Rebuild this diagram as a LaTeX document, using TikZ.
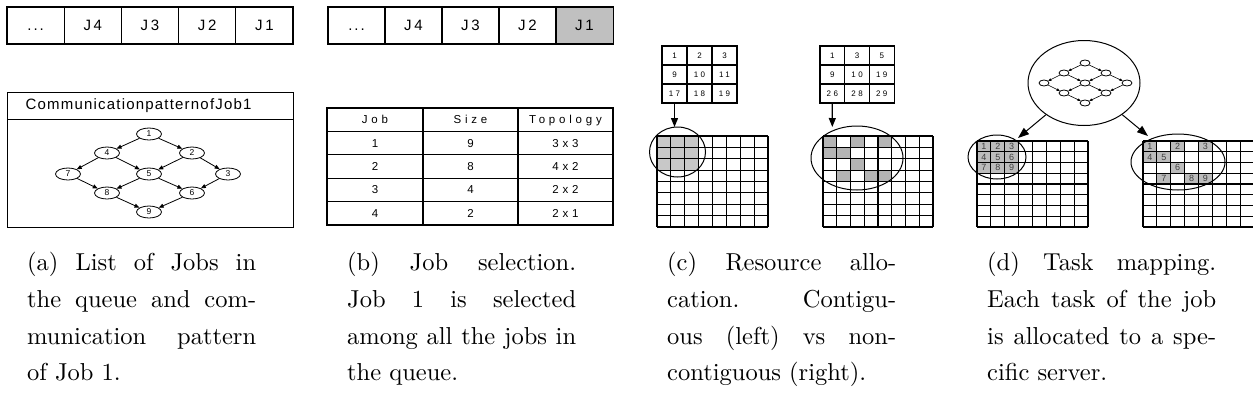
\documentclass[tikz,border=0pt]{standalone}
\usepackage{fontspec}
\usetikzlibrary{shapes.geometric,arrows.meta}
\newfontfamily\arial{Liberation Sans}
\newfontfamily\arialq[LetterSpace=18]{Liberation Sans}
\newfontfamily\arialhd[LetterSpace=8]{Liberation Sans}
\newfontfamily\arialtb[LetterSpace=33]{Liberation Sans}
\newfontfamily\arialnum[LetterSpace=30]{Liberation Sans}
\newfontfamily\capfont{lmroman10-regular}[Extension=.otf]
\newcommand\qdots{.\kern2pt.\kern2pt.}
\tolerance=10000
\hbadness=10000
\definecolor{shadeQ}{HTML}{C0C0C0}
\definecolor{shadeL}{HTML}{C8C8C8}
\definecolor{shadeD}{HTML}{B4B4B4}
\definecolor{shadeM}{HTML}{BCBCBC}
\tikzset{
  frame/.style={draw, line width=1.2pt},
  qcell/.style={frame, inner sep=0pt, minimum width=57.2pt, minimum height=37pt,
    text height=10.5pt, text depth=0pt, font=\arialq\fontsize{15}{17}\selectfont},
  tcell/.style={frame, inner sep=0pt, minimum height=23.4pt,
    text height=8pt, text depth=0pt, font=\arialtb\fontsize{11.5}{13}\selectfont},
  gnode/.style={draw, ellipse, line width=0.8pt, inner sep=0pt, minimum width=25pt,
    minimum height=12pt, font=\arial\fontsize{8.5}{9}\selectfont},
  mnode/.style={draw, ellipse, line width=0.8pt, inner sep=0pt, minimum width=10pt,
    minimum height=6pt},
  garrow/.style={line width=0.8pt, -{Triangle[length=5pt,width=4pt]}},
  marrow/.style={line width=0.6pt, -{Triangle[length=3pt,width=2.6pt]}},
  carrow/.style={line width=1.2pt, -{Triangle[length=9pt,width=7pt]}},
  darrow/.style={line width=1pt, -{Triangle[length=11pt,width=8pt]}},
  scell/.style={frame, inner sep=0pt, minimum width=25pt, minimum height=19pt,
    font=\arialnum\fontsize{8}{9}\selectfont},
  gridline/.style={line width=1.1pt},
  oval/.style={draw, ellipse, line width=1pt, inner sep=0pt},
  dnum/.style={inner sep=0pt, text=black!75, font=\arial\fontsize{9}{10}\selectfont},
  caption/.style={anchor=north west, inner sep=0pt, text width=229pt, align=justify,
    font=\capfont\fontsize{24.5}{36.8}\selectfont}
}
\begin{document}
\begin{tikzpicture}[x=1pt,y=-1pt]
\useasboundingbox (0,0) rectangle (1253,418);
% ---------- (a) ----------
\node[qcell] (qa1) at ({7+0.5*57.2},25.5) {\qdots};
\node[qcell] (qa2) at ({7+1.5*57.2},25.5) {J4};
\node[qcell] (qa3) at ({7+2.5*57.2},25.5) {J3};
\node[qcell] (qa4) at ({7+3.5*57.2},25.5) {J2};
\node[qcell] (qa5) at ({7+4.5*57.2},25.5) {J1};
\node[frame, anchor=north west, minimum height=27pt, text width=250pt, inner xsep=18pt,
  inner ysep=0pt, align=left, font=\arialhd\fontsize{15}{17}\selectfont] (hdr) at (7,92)
  {CommunicationpatternofJob1};
\node[frame, anchor=north west, minimum width=286pt, minimum height=108pt, inner sep=0pt] (body) at (7,119) {};
\node[gnode] (g1) at (149,134) {1};
\node[gnode] (g4) at (107,153) {4};
\node[gnode] (g2) at (192,153) {2};
\node[gnode] (g7) at (68,174) {7};
\node[gnode] (g5) at (149,174) {5};
\node[gnode] (g3) at (228,174) {3};
\node[gnode] (g8) at (107,193) {8};
\node[gnode] (g6) at (192,193) {6};
\node[gnode] (g9) at (149,212) {9};
\foreach \a/\b in {1/4,1/2,4/7,4/5,2/5,2/3,7/8,5/8,5/6,3/6,8/9,6/9}
  \draw[garrow] (g\a) -- (g\b);
% ---------- (b) ----------
\node[qcell] (qb1) at ({328+0.5*57},25.5) {\qdots};
\node[qcell] (qb2) at ({328+1.5*57},25.5) {J4};
\node[qcell] (qb3) at ({328+2.5*57},25.5) {J3};
\node[qcell] (qb4) at ({328+3.5*57},25.5) {J2};
\node[qcell, fill=shadeQ] (qb5) at ({328+4.5*57},25.5) {J1};
\foreach \r/\a/\b/\c in {0/Job/Size/Topology,1/1/9/3x3,2/2/8/4x2,3/3/4/2x2,4/4/2/2x1}{
  \node[tcell, minimum width=96pt] (t\r a) at (375,{108+(\r+0.5)*23.4}) {\a};
  \node[tcell, minimum width=95pt] (t\r b) at (470.5,{108+(\r+0.5)*23.4}) {\b};
  \node[tcell, minimum width=95pt] (t\r c) at (565.5,{108+(\r+0.5)*23.4}) {\c};
}
% ---------- (c) ----------
\foreach \t [count=\k from 0] in {1,2,3,9,10,11,17,18,19}{
  \pgfmathtruncatemacro\cc{mod(\k,3)}
  \pgfmathtruncatemacro\rr{div(\k,3)}
  \node[scell] (sl\k) at ({662+(\cc+0.5)*25},{46+(\rr+0.5)*19}) {\t};
}
\foreach \t [count=\k from 0] in {1,3,5,9,10,19,26,28,29}{
  \pgfmathtruncatemacro\cc{mod(\k,3)}
  \pgfmathtruncatemacro\rr{div(\k,3)}
  \node[scell, minimum width=24.7pt] (sr\k) at ({820+(\cc+0.5)*24.7},{46+(\rr+0.5)*19}) {\t};
}
% left big grid (contiguous)
\foreach \c in {0,1,2} \foreach \r in {0,1,2}
  \fill[shadeL] ({657+\c*13.875},{136+\r*11.375}) rectangle ++(13.875,11.375);
\foreach \i in {0,...,8}{
  \draw[gridline] ({657+\i*13.875},136) -- ({657+\i*13.875},227);
  \draw[gridline] (657,{136+\i*11.375}) -- (768,{136+\i*11.375});
}
% right big grid (non-contiguous)
\foreach \c/\r in {0/0,2/0,4/0,0/1,1/1,2/2,1/3,3/3,4/3}
  \fill[shadeD] ({823+\c*13.75},{136+\r*11.375}) rectangle ++(13.75,11.375);
\foreach \i in {0,...,8}{
  \draw[gridline] ({823+\i*13.75},136) -- ({823+\i*13.75},227);
  \draw[gridline] (823,{136+\i*11.375}) -- (933,{136+\i*11.375});
}
\node[oval, minimum width=56pt, minimum height=50pt] (ocl) at (677.5,152) {};
\node[oval, minimum width=92pt, minimum height=64pt] (ocr) at (857,158) {};
\coordinate (tl) at (674.5,127);
\coordinate (tr) at (832.3,127);
\draw[carrow] (sl6) -- (tl);
\draw[carrow] (sr6) -- (tr);
% ---------- (d) ----------
\node[oval, minimum width=112pt, minimum height=85pt] (circ) at (1084,83) {};
\node[mnode] (m1) at (1085,63) {};
\node[mnode] (m4) at (1064,73) {};
\node[mnode] (m2) at (1106,73) {};
\node[mnode] (m7) at (1044,83) {};
\node[mnode] (m5) at (1085,83) {};
\node[mnode] (m3) at (1127,83) {};
\node[mnode] (m8) at (1064,93) {};
\node[mnode] (m6) at (1106,93) {};
\node[mnode] (m9) at (1085,103) {};
\foreach \a/\b in {1/4,1/2,4/7,4/5,2/5,2/3,7/8,5/8,5/6,3/6,8/9,6/9}
  \draw[marrow] (m\a) -- (m\b);
% left grid with tasks
\foreach \c/\r/\n in {0/0/1,1/0/2,2/0/3,0/1/4,1/1/5,2/1/6,0/2/7,1/2/8,2/2/9}{
  \fill[shadeM] ({977+\c*13.875},{141+\r*10.75}) rectangle ++(13.875,10.75);
  \node[dnum] (dl\n) at ({977+(\c+0.5)*13.875},{141+(\r+0.5)*10.75}) {\n};
}
\foreach \i in {0,...,8}{
  \draw[gridline] ({977+\i*13.875},141) -- ({977+\i*13.875},227);
  \draw[gridline] (977,{141+\i*10.75}) -- (1088,{141+\i*10.75});
}
% right grid with tasks
\foreach \c/\r/\n in {0/0/1,2/0/2,4/0/3,0/1/4,1/1/5,2/2/6,1/3/7,3/3/8,4/3/9}{
  \fill[shadeM] ({1143+\c*13.875},{141+\r*10.75}) rectangle ++(13.875,10.75);
  \node[dnum] (dr\n) at ({1143+(\c+0.5)*13.875},{141+(\r+0.5)*10.75}) {\n};
}
\foreach \i in {0,...,8}{
  \draw[gridline] ({1143+\i*13.875},141) -- ({1143+\i*13.875},227);
  \draw[gridline] (1143,{141+\i*10.75}) -- (1254,{141+\i*10.75});
}
\node[oval, minimum width=58pt, minimum height=44pt] (odl) at (997,157) {};
\node[oval, minimum width=94pt, minimum height=56pt] (odr) at (1178,162) {};
\coordinate (dla) at (1018,138);
\coordinate (dra) at (1148,136);
\draw[darrow] (circ) -- (dla);
\draw[darrow] (circ) -- (dra);
% ---------- captions ----------
\node[caption] (capa) at (27,252) {(a) List of Jobs in\linebreak the queue and com-\linebreak munication pattern\linebreak of Job 1.};
\node[caption] (capb) at (347,252) {(b) Job selection.\linebreak Job 1 is selected\linebreak among all the jobs in\linebreak the queue.};
\node[caption] (capc) at (667,252) {(c) Resource allo-\linebreak cation. Contigu-\linebreak ous (left) vs non-\linebreak contiguous (right).};
\node[caption] (capd) at (987,252) {(d) Task mapping.\linebreak Each task of the job\linebreak is allocated to a spe-\linebreak cific server.};
\end{tikzpicture}
\end{document}
